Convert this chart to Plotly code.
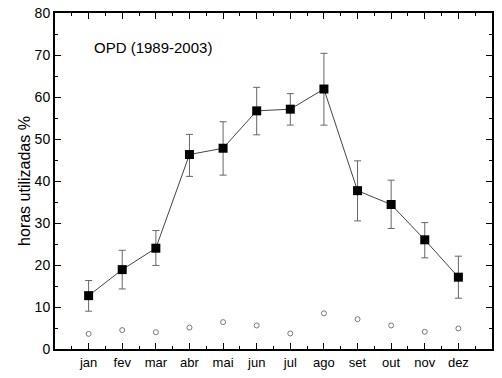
import plotly.graph_objects as go

months = ["jan", "fev", "mar", "abr", "mai", "jun", "jul", "ago", "set", "out", "nov", "dez"]
horas = [12.7, 18.9, 24.0, 46.3, 47.8, 56.7, 57.1, 61.9, 37.7, 34.4, 26.0, 17.1]
err_plus = [3.6, 4.6, 4.2, 4.8, 6.3, 5.6, 3.7, 8.5, 7.1, 5.8, 4.1, 5.0]
err_minus = [3.7, 4.6, 4.1, 5.2, 6.4, 5.7, 3.8, 8.6, 7.2, 5.7, 4.3, 5.0]
outros = [3.6, 4.5, 4.0, 5.1, 6.4, 5.6, 3.7, 8.5, 7.1, 5.6, 4.1, 4.9]
title_text = "OPD (1989-2003)"

xpos = list(range(1, len(months) + 1))

fig = go.Figure()
fig.add_trace(go.Scatter(
    x=xpos, y=horas, mode="lines+markers",
    line=dict(color="#444444", width=1),
    marker=dict(symbol="square", size=9, color="black"),
    error_y=dict(type="data", symmetric=False, array=err_plus, arrayminus=err_minus,
                 color="#666666", thickness=1, width=3.5),
    showlegend=False,
))
fig.add_trace(go.Scatter(
    x=xpos, y=outros, mode="markers",
    marker=dict(symbol="circle-open", size=5, color="#777777", line=dict(width=1)),
    showlegend=False,
))

font = dict(family="Liberation Sans, Arial, sans-serif", color="black")
fig.update_layout(
    width=502, height=378,
    margin=dict(l=55, r=10, t=13, b=29, autoexpand=False),
    paper_bgcolor="white", plot_bgcolor="white",
    font=dict(size=13, **font),
    hovermode=False,
    annotations=[dict(x=1.1, y=71.9, xref="x", yref="y", text=title_text,
                      showarrow=False, xanchor="left", yanchor="middle",
                      font=dict(size=15, **font))],
)
fig.update_xaxes(
    automargin=False,
    range=[0, 13], tickmode="array", tickvals=xpos, ticktext=months,
    ticks="inside", ticklen=6, tickwidth=1, tickcolor="black",
    showline=True, linecolor="black", linewidth=2, mirror="ticks",
    showgrid=False, zeroline=False,
    minor=dict(tickmode="array", tickvals=[v - 0.5 for v in xpos] + [len(months) + 0.5],
               ticks="inside", ticklen=3, tickwidth=1, tickcolor="black"),
    tickfont=dict(size=13),
)
fig.update_yaxes(
    automargin=False,
    range=[0, 80], dtick=10, tick0=0,
    ticks="inside", ticklen=6, tickwidth=1, tickcolor="black",
    showline=True, linecolor="black", linewidth=2, mirror="ticks",
    showgrid=False, zeroline=False, ticklabeloverflow="allow",
    minor=dict(dtick=5, ticks="inside", ticklen=3, tickwidth=1, tickcolor="black"),
    title=dict(text="horas utilizadas %", font=dict(size=16), standoff=0),
    tickfont=dict(size=14),
)
fig.write_html("out.html", config={"displayModeBar": False},
               post_script="document.body.style.margin='0';document.body.style.overflow='hidden';")
